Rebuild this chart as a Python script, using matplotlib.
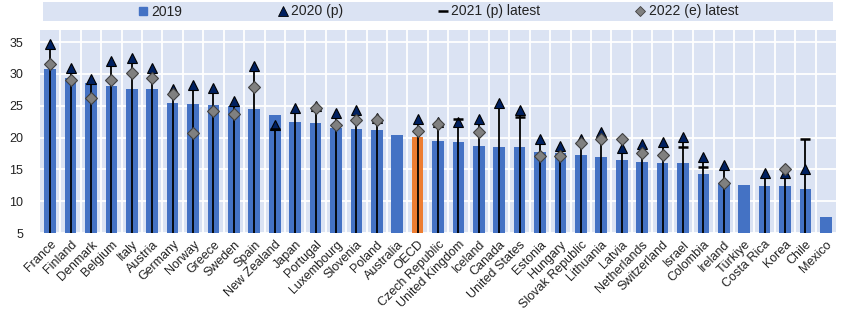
import numpy as np
import matplotlib
matplotlib.use("Agg")
import matplotlib.pyplot as plt
from matplotlib.lines import Line2D
from matplotlib.patches import Rectangle

plt.rcParams['font.family'] = ['Liberation Sans', 'DejaVu Sans']

nan = np.nan

countries = ["France", "Finland", "Denmark", "Belgium", "Italy", "Austria", "Germany",
             "Norway", "Greece", "Sweden", "Spain", "New Zealand", "Japan", "Portugal",
             "Luxembourg", "Slovenia", "Poland", "Australia", "OECD", "Czech Republic",
             "United Kingdom", "Iceland", "Canada", "United States", "Estonia", "Hungary",
             "Slovak Republic", "Lithuania", "Latvia", "Netherlands", "Switzerland",
             "Israel", "Colombia", "Ireland", "Türkiye", "Costa Rica", "Korea", "Chile",
             "Mexico"]

v2019 = [30.8, 29.4, 28.5, 28.1, 27.7, 27.7, 25.5, 25.3, 25.1, 25.0, 24.5, 23.5, 22.4,
         22.3, 21.5, 21.4, 21.2, 20.4, 20.1, 19.5, 19.3, 18.7, 18.5, 18.5, 17.7, 17.5,
         17.3, 17.0, 16.4, 16.2, 16.0, 16.0, 14.3, 12.9, 12.6, 12.4, 12.4, 11.9, 7.5]

v2020 = [34.7, 31.0, 29.2, 32.1, 32.5, 30.9, 27.7, 28.2, 27.8, 25.8, 31.2, 21.9, 24.7,
         25.0, 23.8, 24.4, 23.1, nan, 22.9, 22.5, 22.5, 22.9, 25.4, 24.4, 19.8, 18.7,
         19.8, 20.9, 18.3, 19.0, 19.3, 20.1, 17.0, 15.7, nan, 14.5, 14.4, 15.1, nan]

v2021 = [nan, nan, nan, nan, nan, nan, nan, nan, nan, nan, nan, 21.3, nan,
         nan, nan, nan, nan, nan, nan, nan, 22.9, nan, nan, 23.2, nan, nan,
         nan, nan, nan, nan, nan, 18.5, 15.3, nan, nan, nan, nan, 19.7, nan]

v2022 = [31.6, 29.0, 26.2, 29.0, 30.1, 29.3, 26.8, 20.7, 24.1, 23.7, 28.0, nan, nan,
         24.7, 21.9, 22.8, 22.7, nan, 21.1, 22.1, nan, 20.8, nan, nan, 17.1, 17.1,
         19.1, 19.7, 19.8, 17.6, 17.2, nan, nan, 12.8, nan, nan, 15.0, nan, nan]

blue = "#4472c4"
orange = "#ed7d31"
navy = "#002060"
grey = "#808080"
bg = "#dbe3f3"
ymin, ymax = 5, 36.9

x = np.arange(len(countries))
bar_colors = [orange if c == "OECD" else blue for c in countries]

fig = plt.figure(figsize=(8.5, 3.31), dpi=100)
ax = fig.add_axes([40/850, 1-233/331, 796/850, 203/331])
ax.set_facecolor(bg)

ax.bar(x, np.array(v2019) - ymin, bottom=ymin, width=0.57, color=bar_colors, zorder=2)

# vertical line from the bottom to the highest marker
tops = np.nanmax(np.vstack([v2020, v2021, v2022]), axis=0)
for xi, t in zip(x, tops):
    if not np.isnan(t):
        ax.vlines(xi, ymin, t, color="black", lw=1.3, zorder=3)

ax.plot(x, v2020, ls="none", marker="^", ms=7.5, mfc=navy, mec="black", mew=0.8, zorder=4)
ax.plot(x, v2021, ls="none", marker="_", ms=7, mec="black", mew=1.8, zorder=5)
ax.plot(x, v2022, ls="none", marker="D", ms=6, mfc=grey, mec="#404040", mew=0.8, zorder=6)

ax.set_xlim(-0.5, len(countries) - 0.5)
ax.set_ylim(ymin, ymax)
ax.set_yticks(range(5, 36, 5))
ax.set_xticks(x)
ax.set_xticklabels(countries, rotation=45, ha="right", va="top", rotation_mode="anchor")
ax.set_xticks(x[:-1] + 0.5, minor=True)
ax.grid(axis="y", color="white", lw=1.3, zorder=1)
ax.grid(axis="x", which="minor", color="white", lw=1.3, zorder=1)
ax.set_axisbelow(True)
ax.tick_params(axis="both", which="both", length=0, labelsize=9, colors="#222222")
ax.tick_params(axis="y", pad=12)
ax.tick_params(axis="x", pad=4)
for s in ax.spines.values():
    s.set_visible(False)

# legend box across the top
fig.patches.append(Rectangle((43/850, 1-21/331), 790/850, 19/331,
                             transform=fig.transFigure, facecolor=bg, edgecolor="none", zorder=0))
handles = [
    Line2D([], [], ls="none", marker="s", ms=6, mfc=blue, mec=blue),
    Line2D([], [], ls="none", marker="^", ms=7, mfc=navy, mec="black", mew=0.6),
    Line2D([], [], ls="none", marker="_", ms=7, mec="black", mew=1.8),
    Line2D([], [], ls="none", marker="D", ms=5, mfc=grey, mec="#404040", mew=0.6),
]
labels = ["2019", "2020 (p)", "2021 (p) latest", "2022 (e) latest"]
fig.legend(handles, labels, loc="center", bbox_to_anchor=(438/850, 1-11.5/331), ncol=4,
           frameon=False, fontsize=10, handlelength=0.8, handletextpad=0.2,
           columnspacing=6.8, labelcolor="#222222")

fig.savefig("out.png", dpi=100)
